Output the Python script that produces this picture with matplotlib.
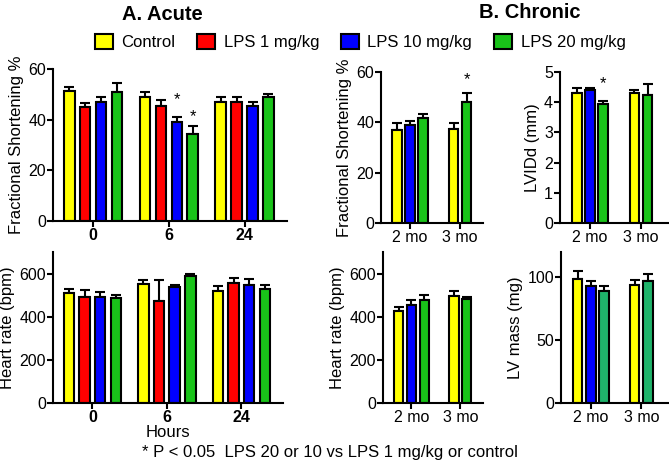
import matplotlib
matplotlib.use("Agg")
import matplotlib.pyplot as plt
import numpy as np
from matplotlib.patches import Patch

plt.rcParams['font.family'] = ['Liberation Sans', 'DejaVu Sans']

# ---- data ----
series = ["Control", "LPS 1 mg/kg", "LPS 10 mg/kg", "LPS 20 mg/kg"]
colors = ["#ffff00", "#ff0000", "#0000ff", "#19c319"]
lvmass_green = "#1fb36b"

acute_groups = ["0", "6", "24"]
acute_fs = [[51.4, 48.8, 47.0], [44.9, 45.4, 47.0], [46.9, 39.0, 45.3], [50.9, 34.5, 49.1]]
acute_fs_err = [[1.4, 2.2, 2.1], [1.8, 2.5, 1.8], [2.2, 2.2, 1.8], [3.5, 2.9, 0.9]]
acute_hr = [[510, 551, 520], [491, 473, 554], [491, 536, 546], [487, 589, 528]]
acute_hr_err = [[18, 21, 23], [35, 98, 26], [22, 12, 31], [12, 7, 17]]

chronic_groups = ["2 mo", "3 mo"]
# series present per chronic group (indices into series)
chronic_members = [[0, 2, 3], [0, 3]]
chronic_fs = [[37.1, 39.0, 41.7], [37.3, 47.9]]
chronic_fs_err = [[2.5, 1.6, 1.6], [2.3, 3.7]]
chronic_lvidd = [[4.31, 4.40, 3.95], [4.31, 4.24]]
chronic_lvidd_err = [[0.15, 0.07, 0.08], [0.11, 0.35]]
chronic_hr = [[426, 455, 478], [498, 480]]
chronic_hr_err = [[18, 23, 23], [22, 12]]
chronic_mass = [[98.4, 92.8, 89.4], [94.1, 97.1]]
chronic_mass_err = [[6.6, 4.5, 3.2], [3.5, 5.3]]

W, H = 669, 466
fig = plt.figure(figsize=(W / 100, H / 100), dpi=100)


def add_ax(left, top, right, bottom):
    return fig.add_axes([left / W, 1 - bottom / H, (right - left) / W, (bottom - top) / H])


def style(ax):
    for s in ["top", "right"]:
        ax.spines[s].set_visible(False)
    for s in ["left", "bottom"]:
        ax.spines[s].set_linewidth(1.5)
    ax.tick_params(axis="both", width=1.5, length=4, labelsize=11.5, pad=1)


def draw_bar(ax, x, h, e, color, width):
    ax.bar(x, h, width=width, color=color, edgecolor="black", linewidth=1.5, zorder=2)
    ax.errorbar(x, h, yerr=[[0], [e]], fmt="none", ecolor="black", elinewidth=1.5,
                capsize=3.5, capthick=1.5, zorder=1)


def acute_panel(ax, vals, errs, ylim, yticks, ylabel, stars=()):
    pitch, width = 0.21, 0.14
    for si in range(4):
        for gi in range(3):
            x = gi + (si - 1.5) * pitch
            draw_bar(ax, x, vals[si][gi], errs[si][gi], colors[si], width)
    for (si, gi, y) in stars:
        x = gi + (si - 1.5) * pitch
        ax.text(x, y, "*", ha="center", va="center", fontsize=12)
    ax.set_xlim(-0.53, 2.56)
    ax.set_ylim(*ylim)
    ax.set_yticks(yticks)
    ax.set_xticks(range(3))
    ax.set_xticklabels(acute_groups, fontweight="bold")
    ax.set_ylabel(ylabel, fontsize=12, labelpad=3)
    style(ax)


def chronic_panel(ax, vals, errs, ylim, yticks, ylabel, xlim, stars=(), green=None):
    pitch, width = 0.26, 0.19
    for gi, members in enumerate(chronic_members):
        n = len(members)
        for k, si in enumerate(members):
            x = gi + (k - (n - 1) / 2) * pitch
            c = colors[si]
            if si == 3 and green is not None:
                c = green
            draw_bar(ax, x, vals[gi][k], errs[gi][k], c, width)
    for (gi, k, y) in stars:
        n = len(chronic_members[gi])
        x = gi + (k - (n - 1) / 2) * pitch
        ax.text(x, y, "*", ha="center", va="center", fontsize=12)
    ax.set_xlim(*xlim)
    ax.set_ylim(*ylim)
    ax.set_yticks(yticks)
    ax.set_xticks(range(2))
    ax.set_xticklabels(chronic_groups)
    ax.set_ylabel(ylabel, fontsize=12, labelpad=3)
    style(ax)


ax1 = add_ax(53, 69, 287, 221)
acute_panel(ax1, acute_fs, acute_fs_err, (0, 60), [0, 20, 40, 60], "Fractional Shortening %",
            stars=[(2, 1, 47.9), (3, 1, 41.1)])

ax2 = add_ax(53, 252, 283, 403)
acute_panel(ax2, acute_hr, acute_hr_err, (0, 700), [0, 200, 400, 600], "Heart rate (bpm)")
ax2.set_xlabel("Hours", fontsize=12, labelpad=0)

ax3 = add_ax(381, 72, 483, 223)
chronic_panel(ax3, chronic_fs, chronic_fs_err, (0, 60), [0, 20, 40, 60], "Fractional Shortening %",
              (-0.58, 1.46), stars=[(1, 1, 57)])

ax4 = add_ax(560, 72, 668, 223)
chronic_panel(ax4, chronic_lvidd, chronic_lvidd_err, (0, 5), [0, 1, 2, 3, 4, 5], "LVIDd (mm)",
              (-0.59, 1.53), stars=[(0, 2, 4.6)])

ax5 = add_ax(383, 252, 483, 403)
chronic_panel(ax5, chronic_hr, chronic_hr_err, (0, 700), [0, 200, 400, 600], "Heart rate (bpm)",
              (-0.58, 1.46))

ax6 = add_ax(561, 252, 668, 403)
chronic_panel(ax6, chronic_mass, chronic_mass_err, (0, 120), [0, 50, 100], "LV mass (mg)",
              (-0.59, 1.53), green=lvmass_green)

fig.text(162 / W, 1 - 14 / H, "A. Acute", ha="center", va="center", fontsize=14.5, fontweight="bold")
fig.text(530 / W, 1 - 13 / H, "B. Chronic", ha="center", va="center", fontsize=14.5, fontweight="bold")

handles = [Patch(facecolor=c, edgecolor="black", linewidth=1.5) for c in colors]
fig.legend(handles, series, loc="center", bbox_to_anchor=(360 / W, 1 - 42 / H), ncol=4,
           frameon=False, fontsize=12, handlelength=1.1, handleheight=1.0,
           handletextpad=0.5, columnspacing=1.3)

fig.text(330 / W, 1 - 452 / H, "* P < 0.05  LPS 20 or 10 vs LPS 1 mg/kg or control",
         ha="center", va="center", fontsize=12)

fig.savefig("out.png", dpi=100)
